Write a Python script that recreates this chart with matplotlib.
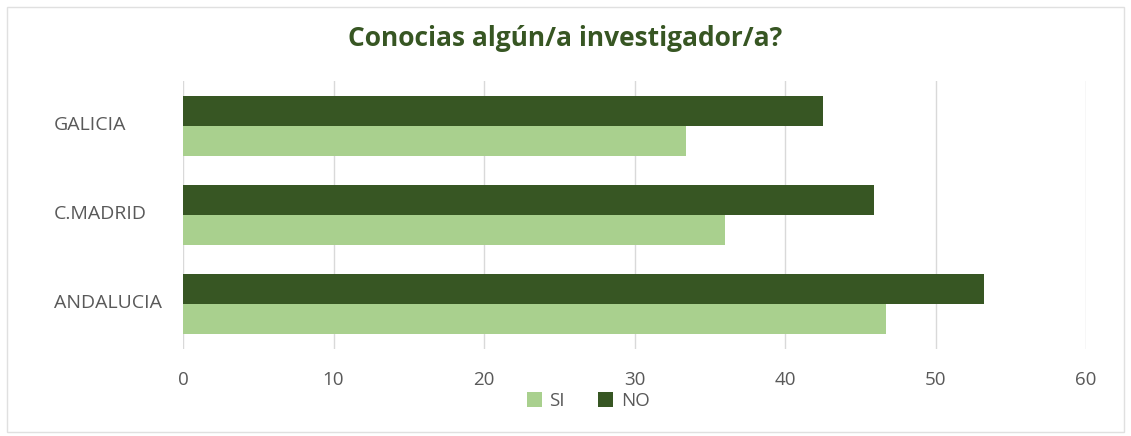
import numpy as np
import matplotlib.pyplot as plt
from matplotlib.patches import Rectangle

# Datos
regiones = ['GALICIA', 'C.MADRID', 'ANDALUCIA']
si = [33.4, 36.0, 46.7]
no = [42.5, 45.9, 53.2]

verde_claro = '#A9D08E'
verde_oscuro = '#375623'
gris_texto = '#595959'

plt.rcParams['font.family'] = ['Open Sans', 'DejaVu Sans']

fig = plt.figure(figsize=(11.31, 4.36), dpi=100)
ax = fig.add_axes([183 / 1131, 1 - 348.5 / 436, (1086 - 183) / 1131, (348.5 - 81.5) / 436])

y = np.arange(len(regiones))[::-1]  # GALICIA arriba
h = 1 / 3
ax.barh(y - h / 2, si, height=h, color=verde_claro, label='SI', zorder=3)
ax.barh(y + h / 2, no, height=h, color=verde_oscuro, label='NO', zorder=3)

ax.set_xlim(0, 60)
ax.set_ylim(-0.5, len(regiones) - 0.5)
ax.set_xticks(range(0, 61, 10))
ax.tick_params(axis='x', length=0, pad=16, labelsize=13.5, labelcolor=gris_texto)
ax.set_yticks([])
ax.grid(axis='x', color='#D9D9D9', linewidth=1, zorder=0)
for s in ax.spines.values():
    s.set_visible(False)

# etiquetas de categoría alineadas a la izquierda
for yi, nombre in zip(y, regiones):
    fig.text(54 / 1131, ax.transData.transform((0, yi))[1] / 436 + 0.003, nombre,
             ha='left', va='center', fontsize=14, color=gris_texto)

fig.suptitle('Conocias algún/a investigador/a?', y=1 - 39 / 436, va='center',
             fontsize=19, fontweight='bold', color=verde_oscuro)

leg = fig.legend(loc='center', bbox_to_anchor=(588 / 1131, 1 - 401 / 436), ncol=2, frameon=False,
                 fontsize=13.5, handlelength=0.8, handleheight=0.9, handletextpad=0.4,
                 columnspacing=1.8, labelcolor=gris_texto)

# borde del gráfico
fig.patches.append(Rectangle((7 / 1131, 0.01), 1 - 14 / 1131, 1 - 7 / 436 - 0.01,
                             transform=fig.transFigure, fill=False,
                             edgecolor='#E0E0E0', linewidth=1))

fig.savefig('out.png', dpi=100)
